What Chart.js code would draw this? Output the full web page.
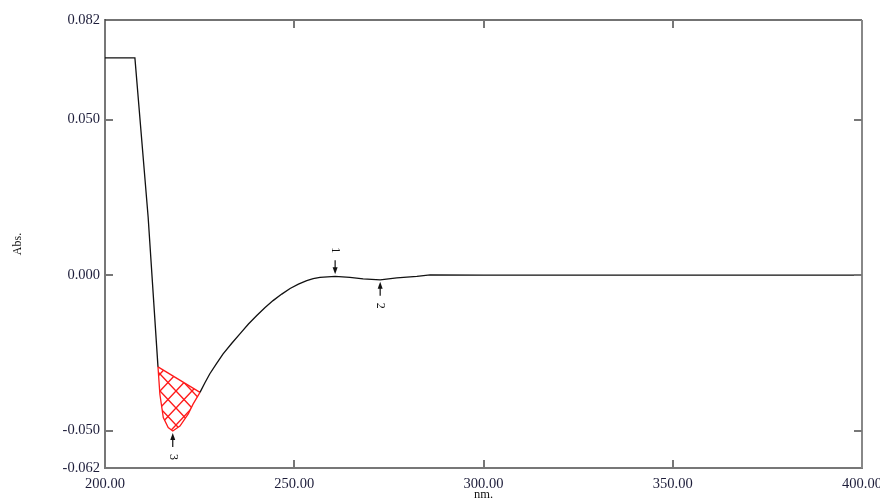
<!DOCTYPE html>
<html><head><meta charset="utf-8">
<script src="https://cdn.jsdelivr.net/npm/chart.js@4"></script>
<style>html,body{margin:0;padding:0;background:#fff}</style>
</head><body><canvas id="c" width="880" height="504"></canvas>
<script>
const wavelength = [200, 207.9, 211.4, 214.0, 214.5, 215.4, 216.7, 217.9, 219.8, 222.0, 223.3, 225.1, 226.4, 227.7, 229.5, 231.2, 233.5, 235.7, 237.9, 240.1, 242.3, 244.4, 246.7, 248.9, 251.1, 253.3, 255.0, 256.8, 260.8, 264.7, 268.2, 272.7, 277.1, 282.4, 285.9, 300, 350, 400];
const absorbance = [0.0698, 0.0698, 0.0186, -0.0295, -0.0383, -0.0458, -0.0490, -0.0501, -0.0485, -0.0446, -0.0414, -0.0377, -0.0346, -0.0317, -0.0284, -0.0253, -0.0219, -0.0188, -0.0157, -0.0130, -0.0104, -0.0082, -0.0061, -0.0043, -0.0029, -0.0018, -0.0011, -0.0007, -0.0004, -0.0007, -0.0012, -0.0015, -0.0009, -0.0004, 0.0001, 0.0000, 0.0000, 0.0000];
const yTicks = [0.082, 0.050, 0.000, -0.050, -0.062];
const xTicks = [200, 250, 300, 350, 400];
const peakNo = ['1', '2', '3'];
const peakNm = [260.8, 272.7, 217.9];
const peakAbs = [-0.0004, -0.0015, -0.0501];
const peakSide = ['above', 'below', 'below'];
const hatchStart = 214.0, hatchEnd = 225.1;

const RED = '#ff1a1a';
const curve = wavelength.map((x, i) => ({x, y: absorbance[i]}));
const hatchCurve = curve.filter(p => p.x >= hatchStart && p.x <= hatchEnd);
const chord = [hatchCurve[0], hatchCurve[hatchCurve.length - 1]];

// seamless crosshatch tile
const TW = 16, TH = 17;
const pc = document.createElement('canvas');
pc.width = TW; pc.height = TH;
const g = pc.getContext('2d');
g.strokeStyle = RED; g.lineWidth = 1.4;
g.beginPath();
[-TW, 0, TW].forEach(dx => {
  g.moveTo(dx, 0); g.lineTo(dx + TW, TH);
  g.moveTo(dx + TW, 0); g.lineTo(dx, TH);
});
g.stroke();
const hatch = document.getElementById('c').getContext('2d').createPattern(pc, 'repeat');

const serif = 'Liberation Serif';

const decor = {
  id: 'decor',
  afterDraw(chart) {
    const {ctx, chartArea: a, scales: {x, y}} = chart;
    ctx.save();
    ctx.strokeStyle = '#444'; ctx.lineWidth = 1.5;
    ctx.beginPath(); ctx.moveTo(a.left, a.top); ctx.lineTo(a.right, a.top); ctx.stroke();
    ctx.strokeStyle = '#888'; ctx.lineWidth = 2;
    ctx.beginPath(); ctx.moveTo(a.right, a.top); ctx.lineTo(a.right, a.bottom); ctx.stroke();
    ctx.strokeStyle = '#777'; ctx.lineWidth = 2;
    ctx.beginPath();
    xTicks.slice(1, -1).forEach(v => {
      const px = Math.round(x.getPixelForValue(v));
      ctx.moveTo(px, a.bottom); ctx.lineTo(px, a.bottom - 8);
      ctx.moveTo(px, a.top); ctx.lineTo(px, a.top + 8);
    });
    yTicks.slice(1, -1).forEach(v => {
      const py = Math.round(y.getPixelForValue(v));
      ctx.moveTo(a.left, py); ctx.lineTo(a.left + 8, py);
      ctx.moveTo(a.right, py); ctx.lineTo(a.right - 8, py);
    });
    ctx.stroke();
    ctx.fillStyle = '#111'; ctx.strokeStyle = '#111'; ctx.lineWidth = 1.2;
    ctx.font = '12px "' + serif + '"';
    ctx.textAlign = 'center'; ctx.textBaseline = 'middle';
    peakNo.forEach((lab, i) => {
      const px = x.getPixelForValue(peakNm[i]);
      const py = y.getPixelForValue(peakAbs[i]);
      const s = peakSide[i] === 'above' ? -1 : 1;
      const tip = py + s * 2, tail = py + s * 16;
      ctx.beginPath(); ctx.moveTo(px, tail); ctx.lineTo(px, tip + s * 5); ctx.stroke();
      ctx.beginPath();
      ctx.moveTo(px, tip); ctx.lineTo(px - 2.5, tip + s * 7); ctx.lineTo(px + 2.5, tip + s * 7);
      ctx.closePath(); ctx.fill();
      ctx.save();
      ctx.translate(px, py + s * 26);
      ctx.rotate(Math.PI / 2);
      ctx.fillText(lab, 0, 0);
      ctx.restore();
    });
    ctx.restore();
  }
};

new Chart(document.getElementById('c'), {
  type: 'line',
  data: {
    datasets: [
      {
        data: hatchCurve, borderWidth: 0, borderColor: 'rgba(0,0,0,0)', pointRadius: 0,
        tension: 0, fill: {target: 2, above: hatch, below: hatch}, backgroundColor: hatch
      },
      {
        data: curve, borderColor: '#111', borderWidth: 1.3, pointRadius: 0,
        tension: 0, fill: false,
        segment: {
          borderColor: c => (c.p0.parsed.x >= hatchStart && c.p1.parsed.x <= hatchEnd) ? RED : undefined
        }
      },
      {
        data: chord, borderColor: RED, borderWidth: 1.3, pointRadius: 0, tension: 0, fill: false
      }
    ]
  },
  options: {
    responsive: false, animation: false, devicePixelRatio: 1,
    layout: {padding: {top: 20, right: 18, left: 0, bottom: 0}},
    plugins: {legend: {display: false}, tooltip: {enabled: false}},
    scales: {
      x: {
        type: 'linear', min: 200, max: 400,
        afterBuildTicks: s => { s.ticks = xTicks.map(v => ({value: v})); },
        afterFit: s => { s.height = 36; s.paddingLeft = 0; s.paddingRight = 0; },
        ticks: {callback: v => Number(v).toFixed(2), font: {family: serif, size: 14.5}, color: '#1d1d3a', padding: 7, maxRotation: 0, autoSkip: false},
        grid: {display: false, drawTicks: false},
        border: {display: true, color: '#777', width: 2},
        title: {display: true, text: 'nm.', font: {family: serif, size: 12.5}, color: '#111', padding: {top: 0, bottom: 2}}
      },
      y: {
        type: 'linear', min: -0.062, max: 0.082,
        afterBuildTicks: s => { s.ticks = yTicks.map(v => ({value: v})); },
        afterFit: s => { s.width = 105; s.paddingTop = 0; s.paddingBottom = 0; },
        ticks: {callback: v => Number(v).toFixed(3), font: {family: serif, size: 14.5}, color: '#1d1d3a', padding: 5, autoSkip: false},
        grid: {display: false, drawTicks: false},
        border: {display: true, color: '#777', width: 2},
        title: {display: true, text: 'Abs.', font: {family: serif, size: 12}, color: '#111', padding: {top: 11, bottom: 0}}
      }
    }
  },
  plugins: [decor]
});
</script>
</body></html>
